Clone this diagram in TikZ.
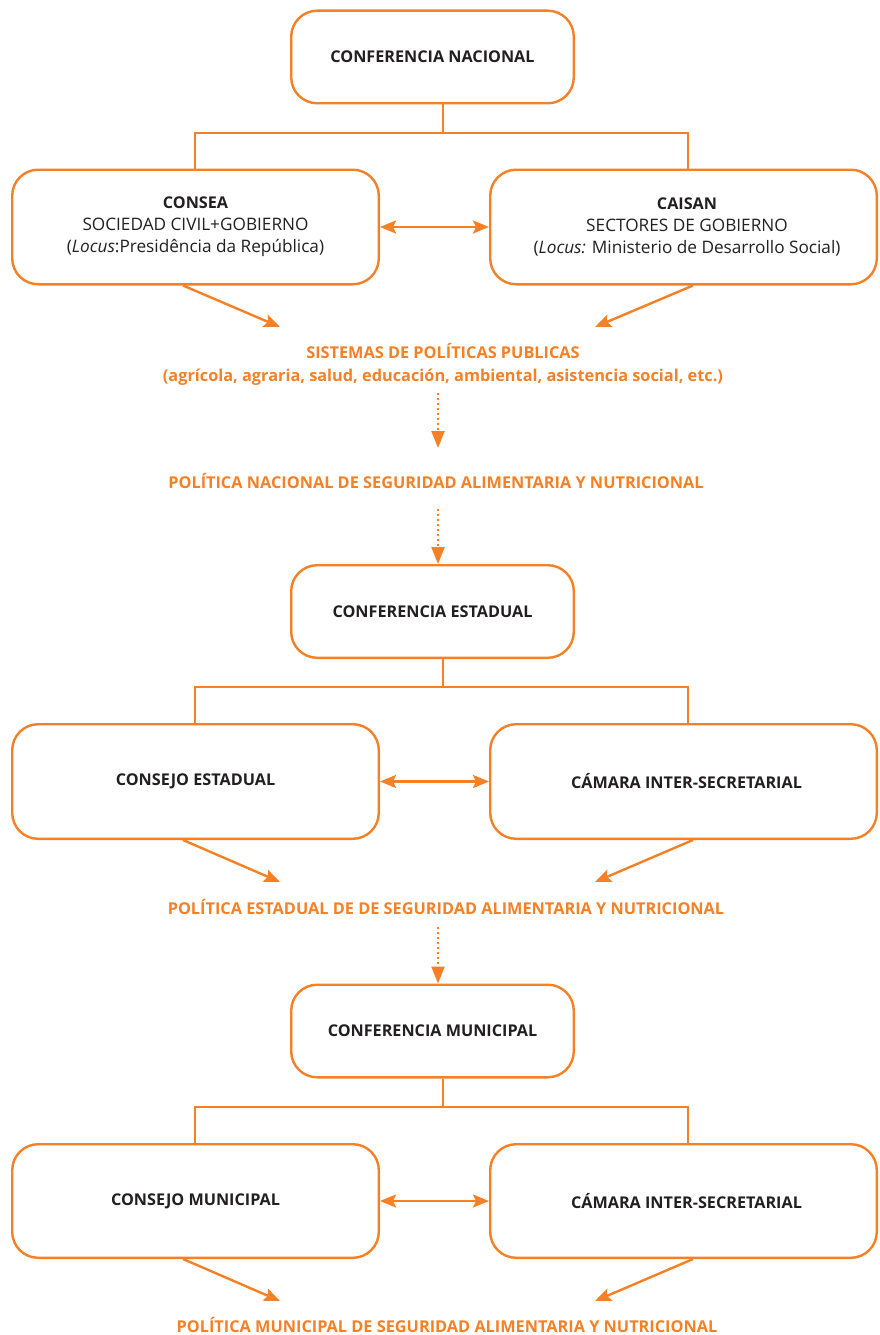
\documentclass[tikz,border=0pt]{standalone}
\usepackage{fontspec}
\setmainfont{Open Sans}
\usetikzlibrary{arrows.meta,calc}
\definecolor{org}{RGB}{245,128,37}
\definecolor{ink}{RGB}{35,31,32}
\newcommand{\regtxt}{\mdseries\fontsize{17.2}{22}\selectfont}
\begin{document}
\begin{tikzpicture}[x=1pt,y=-1pt,
  box/.style={draw=org,line width=2.4pt,rounded corners=26pt,inner sep=0pt,
    align=center,text=ink,font=\bfseries\fontsize{16.2}{22}\selectfont},
  topbox/.style={box,minimum width=282.6pt,minimum height=92.6pt},
  lbox/.style={box,minimum width=366.6pt,minimum height=114.6pt},
  rbox/.style={box,minimum width=386.6pt,minimum height=114.6pt},
  conn/.style={draw=org,line width=2.4pt},
  arr/.style={conn,-{Stealth[length=16pt,width=13pt,inset=3pt]}},
  darr/.style={conn,{Stealth[length=16pt,width=13pt,inset=3pt]}-{Stealth[length=16pt,width=13pt,inset=3pt]}},
  dotarr/.style={draw=org,line width=2.4pt,dash pattern=on 2.4pt off 2.6pt,
    -{Triangle[length=17pt,width=13pt]}},
  otext/.style={text=org,align=center,inner sep=0pt,font=\bfseries\fontsize{16.3}{23}\selectfont}
]
\useasboundingbox (0,0) rectangle (879,1335);

% ---------- NACIONAL ----------
\node[topbox] (nat) at (432.5,57) {CONFERENCIA NACIONAL};
\node[lbox] (consea) at (195.5,227) {CONSEA\\
  {\regtxt SOCIEDAD CIVIL+GOBIERNO}\\
  {\regtxt (\textit{Locus}:Presidência da República)}};
\node[rbox] (caisan) at (683.5,227) {\hspace*{7pt}CAISAN\\
  \hspace*{7pt}{\regtxt SECTORES DE GOBIERNO}\\
  \hspace*{7pt}{\regtxt (\textit{Locus:} Ministerio de Desarrollo Social)}};
\coordinate (j1) at (443,133);
\coordinate (jl1) at (195,133);
\coordinate (jr1) at (688,133);
\draw[conn] (nat.south -| j1) -- (j1);
\draw[conn] (consea.north -| jl1) |- (jr1) -- (caisan.north -| jr1);
\draw[darr] (consea.east) -- (caisan.west);
\coordinate (t1l) at (280,327);
\coordinate (t1r) at (595,327);
\draw[arr] ([xshift=-12.5pt]consea.south) -- (t1l);
\draw[arr] ([xshift=9.5pt]caisan.south) -- (t1r);
\node[otext] (sis) at (443,364.5) {SISTEMAS DE POLÍTICAS PUBLICAS\\
  (agrícola, agraria, salud, educación, ambiental, asistencia social, etc.)};
\coordinate (d1s) at (438,393);
\coordinate (d1e) at (438,448);
\draw[dotarr] (d1s) -- (d1e);
\node[otext] (polnac) at (436,481) {POLÍTICA NACIONAL DE SEGURIDAD ALIMENTARIA Y NUTRICIONAL};
\coordinate (d2s) at (438,509);

% ---------- ESTADUAL ----------
\node[topbox] (est) at (432.5,611.5) {CONFERENCIA ESTADUAL};
\draw[dotarr] (d2s) -- (est.north -| d2s);
\node[lbox] (cest) at (195.5,781.5) {CONSEJO ESTADUAL};
\node[rbox] (camest) at (683.5,781.5) {\hspace*{6pt}CÁMARA INTER-SECRETARIAL};
\coordinate (j2) at (443,687);
\coordinate (jl2) at (195,687);
\coordinate (jr2) at (688,687);
\draw[conn] (est.south -| j2) -- (j2);
\draw[conn] (cest.north -| jl2) |- (jr2) -- (camest.north -| jr2);
\draw[darr] (cest.east) -- (camest.west);
\coordinate (t2l) at (280,882);
\coordinate (t2r) at (595,882);
\draw[arr] ([xshift=-12.5pt]cest.south) -- (t2l);
\draw[arr] ([xshift=9.5pt]camest.south) -- (t2r);
\node[otext] (polest) at (446,907) {POLÍTICA ESTADUAL DE DE SEGURIDAD ALIMENTARIA Y NUTRICIONAL};
\coordinate (d3s) at (438,927);

% ---------- MUNICIPAL ----------
\node[topbox] (mun) at (432.5,1031) {CONFERENCIA MUNICIPAL};
\draw[dotarr] (d3s) -- (mun.north -| d3s);
\node[lbox,minimum height=113.6pt] (cmun) at (195.5,1201) {CONSEJO MUNICIPAL};
\node[rbox,minimum height=113.6pt] (cammun) at (683.5,1201) {\hspace*{6pt}CÁMARA INTER-SECRETARIAL};
\coordinate (j3) at (443,1107);
\coordinate (jl3) at (195,1107);
\coordinate (jr3) at (688,1107);
\draw[conn] (mun.south -| j3) -- (j3);
\draw[conn] (cmun.north -| jl3) |- (jr3) -- (cammun.north -| jr3);
\draw[darr] (cmun.east) -- (cammun.west);
\coordinate (t3l) at (280,1301);
\coordinate (t3r) at (595,1301);
\draw[arr] ([xshift=-12.5pt]cmun.south) -- (t3l);
\draw[arr] ([xshift=9.5pt]cammun.south) -- (t3r);
\node[otext] (polmun) at (447,1325) {POLÍTICA MUNICIPAL DE SEGURIDAD ALIMENTARIA Y NUTRICIONAL};
\end{tikzpicture}
\end{document}
